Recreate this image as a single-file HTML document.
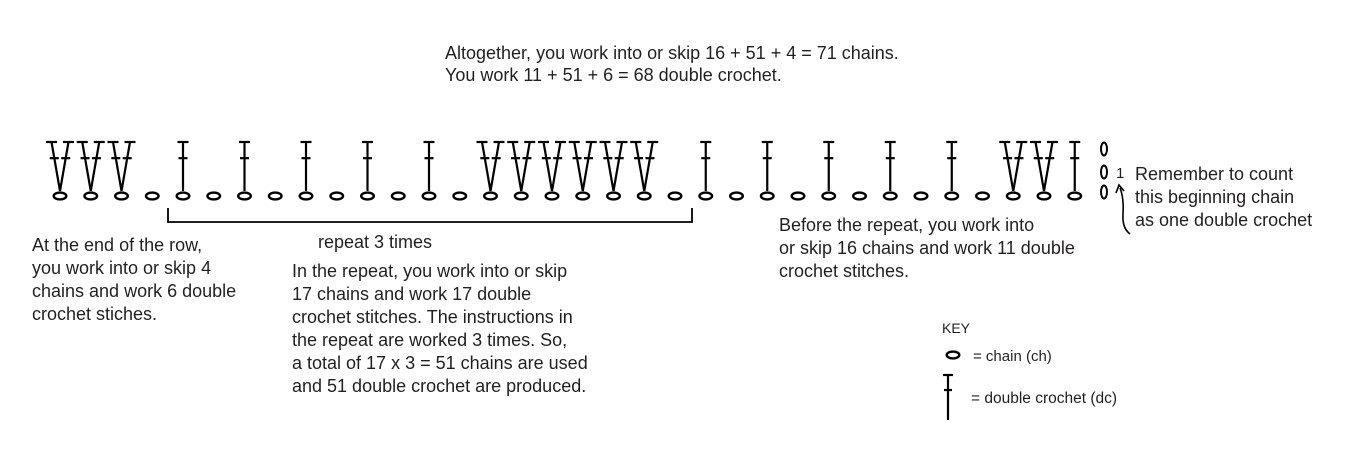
<!DOCTYPE html>
<html><head><meta charset="utf-8"><style>
html,body{margin:0;padding:0;background:#fff;}
svg{display:block;}
text{font-family:"Liberation Sans",sans-serif;fill:#231f20;}
.t{font-size:18px;}
.k{font-size:14px;}
</style></head><body>
<svg id="s" width="1352" height="450" viewBox="0 0 1352 450" xmlns="http://www.w3.org/2000/svg">
<g class="t">
<text x="445" y="59">Altogether, you work into or skip 16 + 51 + 4 = 71 chains.</text>
<text x="445" y="81">You work 11 + 51 + 6 = 68 double crochet.</text>
<text x="32" y="251">At the end of the row,</text>
<text x="32" y="274">you work into or skip 4</text>
<text x="32" y="297">chains and work 6 double</text>
<text x="32" y="320">crochet stiches.</text>
<text x="318" y="248">repeat 3 times</text>
<text x="292" y="277">In the repeat, you work into or skip</text>
<text x="292" y="300">17 chains and work 17 double</text>
<text x="292" y="323">crochet stitches. The instructions in</text>
<text x="292" y="346">the repeat are worked 3 times. So,</text>
<text x="292" y="369">a total of 17 x 3 = 51 chains are used</text>
<text x="292" y="392">and 51 double crochet are produced.</text>
<text x="779" y="231">Before the repeat, you work into</text>
<text x="779" y="254">or skip 16 chains and work 11 double</text>
<text x="779" y="277">crochet stitches.</text>
<text x="1135" y="180">Remember to count</text>
<text x="1135" y="203">this beginning chain</text>
<text x="1135" y="226">as one double crochet</text>
</g>
<g class="k">
<text x="942" y="333">KEY</text>
<text x="973" y="361" style="font-size:15px">= chain (ch)</text>
<text x="971" y="403" style="font-size:15.5px">= double crochet (dc)</text>
<text x="1116" y="178" style="font-size:15px">1</text>
</g>
<g id="g" stroke="#000" stroke-width="2.2" fill="none"></g>
</svg>
<script>
var g=document.getElementById('g'),h='';
function ch(x,y){h+='<ellipse cx="'+x+'" cy="'+y+'" rx="6.3" ry="3.4" stroke-width="2.4"/>';}
function leg(x1,y1,x2,y2){h+='<line x1="'+x1+'" y1="'+y1+'" x2="'+x2+'" y2="'+y2+'"/>';
 h+='<line x1="'+(x2-5.5)+'" y1="'+y2+'" x2="'+(x2+5.5)+'" y2="'+y2+'"/>';
 var t=0.33,mx=x2+(x1-x2)*t,my=y2+(y1-y2)*t;
 h+='<line x1="'+(mx-4.5)+'" y1="'+my+'" x2="'+(mx+4.5)+'" y2="'+my+'"/>';}
function dc(x){leg(x,191,x,142);}
function V(x){leg(x,191,x-8.5,142);leg(x,191,x+8.5,142);}
for(var i=0;i<34;i++){var x=60+i*30.75;ch(x,196);}
var P=function(i){return 60+i*30.75;};
[0,1,2,14,15,16,17,18,19,31,32].forEach(function(i){V(P(i));});
[4,6,8,10,12,21,23,25,27,29,33].forEach(function(i){dc(P(i));});
['149','172','192'].forEach(function(y){h+='<ellipse cx="1104" cy="'+y+'" rx="3" ry="6.5" stroke-width="2"/>';});
h+='<path d="M168 208 V222 H692 V208" stroke-width="1.8"/>';
h+='<path d="M1130 234 Q1122 228 1123 214 Q1124 198 1120 188" stroke-width="1.6"/>';
h+='<path d="M1116 193 L1119 185 L1124 191" stroke-width="1.6"/>';
ch(953,355);
h+='<line x1="948" y1="375" x2="948" y2="420"/><line x1="943" y1="375" x2="953" y2="375"/><line x1="944" y1="390" x2="952" y2="390"/>';
g.innerHTML=h;
</script>
</body></html>
